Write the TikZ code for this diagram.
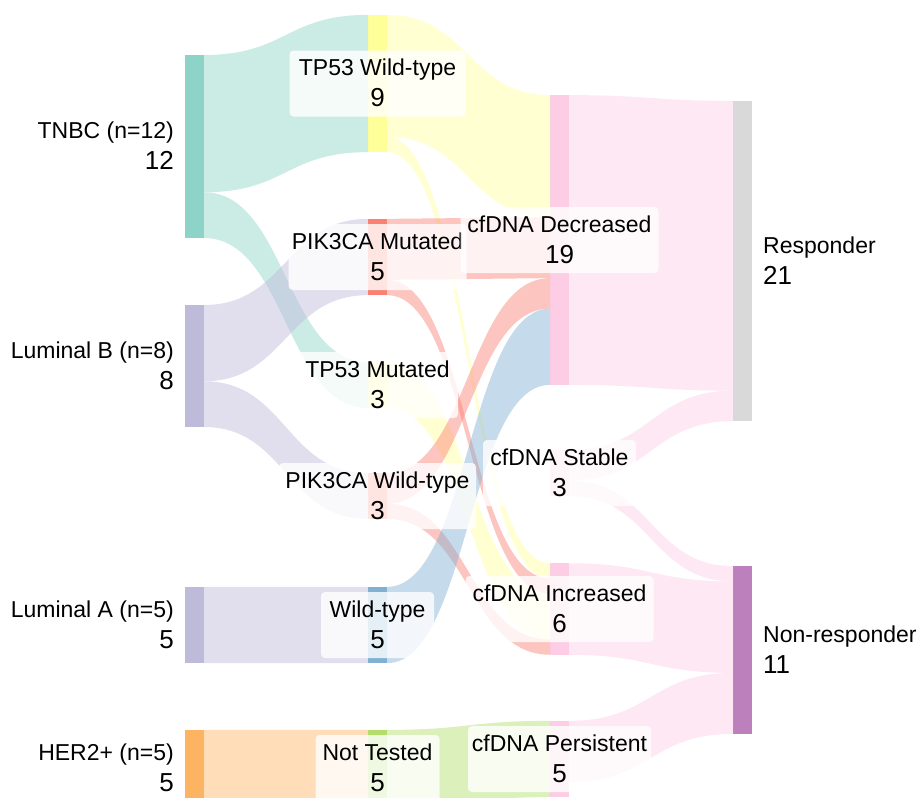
\documentclass[tikz,border=0pt]{standalone}
\usepackage{fontspec}
\setmainfont{Liberation Sans}
\usetikzlibrary{calc}
\definecolor{cTeal}{HTML}{8DD3C7}
\definecolor{cLav}{HTML}{BEBADA}
\definecolor{cOrange}{HTML}{FDB462}
\definecolor{cYellow}{HTML}{FFFF99}
\definecolor{cRed}{HTML}{FB8072}
\definecolor{cBlue}{HTML}{80B1D3}
\definecolor{cGreen}{HTML}{B3DE69}
\definecolor{cPink}{HTML}{FCCDE5}
\definecolor{cGrey}{HTML}{D9D9D9}
\definecolor{cPurple}{HTML}{BC80BD}
\def\U{15.25pt}
% link: #1 source node, #2 source offset (units), #3 target node, #4 target offset, #5 width, #6 colour
\newcommand\lnk[6]{%
  \fill[#6, fill opacity=0.45] let \p1=(#1.north east), \p2=(#3.north west), \p3=($(\p1)!0.5!(\p2)$) in
    (\x1,\y1-#2*\U) .. controls (\x3,\y1-#2*\U) and (\x3,\y2-#4*\U) .. (\x2,\y2-#4*\U)
    -- (\x2,\y2-#4*\U-#5*\U) .. controls (\x3,\y2-#4*\U-#5*\U) and (\x3,\y1-#2*\U-#5*\U) .. (\x1,\y1-#2*\U-#5*\U) -- cycle;}
\newcommand\midlbl[4]{% #1 bar node, #2 box width, #3 name, #4 number
  \node[lblbox, minimum width=#2] (#1-box) at (#1.center) {};
  \node[nametxt, anchor=base] (#1-name) at ($(#1.center)+(0,-8)$) {#3};
  \node[numtxt, anchor=base] (#1-num) at ($(#1.center)+(0,23)$) {#4};}
\newcommand\leftlbl[3]{%
  \node[nametxt, anchor=base east] (#1-name) at ($(#1.center)+(-20.5,-8)$) {#2};
  \node[numtxt, anchor=base east] (#1-num) at ($(#1.center)+(-20.5,23)$) {#3};}
\newcommand\rightlbl[3]{%
  \node[nametxt, anchor=base west] (#1-name) at ($(#1.center)+(20.5,-8)$) {#2};
  \node[numtxt, anchor=base west] (#1-num) at ($(#1.center)+(20.5,23)$) {#3};}
\tikzset{
  bar/.style={rectangle, draw=none, inner sep=0pt, outer sep=0pt, minimum width=19pt},
  lblbox/.style={rectangle, rounded corners=4pt, draw=none, fill=white, fill opacity=0.8, minimum height=66pt, inner sep=0pt},
  nametxt/.style={inner sep=0pt, text=black, font=\fontsize{23}{28}\selectfont},
  numtxt/.style={inner sep=0pt, text=black, font=\fontsize{26}{30}\selectfont},
}
\begin{document}
\begin{tikzpicture}[x=1pt, y=-1pt]
\clip (0,0) rectangle (919,798);
\fill[white] (0,0) rectangle (919,798);
% column 0
\node[bar, fill=cTeal,   minimum height=12*\U] (tnbc) at (194.5,146.5) {};
\node[bar, fill=cLav,    minimum height=8*\U]  (lumb) at (194.5,366) {};
\node[bar, fill=cLav,    minimum height=5*\U]  (luma) at (194.5,625) {};
\node[bar, fill=cOrange, minimum height=5*\U]  (her2) at (194.5,768) {};
% column 1
\node[bar, fill=cYellow, minimum height=9*\U] (tp53wt) at (377.5,83.5) {};
\node[bar, fill=cRed,    minimum height=5*\U] (pikm)   at (377.5,257) {};
\node[bar, fill=cYellow, minimum height=3*\U] (tp53m)  at (377.5,385) {};
\node[bar, fill=cRed,    minimum height=3*\U] (pikwt)  at (377.5,496) {};
\node[bar, fill=cBlue,   minimum height=5*\U] (wt)     at (377.5,625) {};
\node[bar, fill=cGreen,  minimum height=5*\U] (nt)     at (377.5,768) {};
% column 2
\node[bar, fill=cPink, minimum height=19*\U] (dec)  at (559.5,240) {};
\node[bar, fill=cPink, minimum height=3*\U]  (stab) at (559.5,473) {};
\node[bar, fill=cPink, minimum height=6*\U]  (inc)  at (559.5,609) {};
\node[bar, fill=cPink, minimum height=5*\U]  (pers) at (559.5,759) {};
% column 3
\node[bar, fill=cGrey,   minimum height=21*\U] (resp) at (742.5,261) {};
\node[bar, fill=cPurple, minimum height=11*\U] (nonr) at (742.5,650) {};
% links column 0 -> 1
\lnk{tnbc}{0}{tp53wt}{0}{9}{cTeal}
\lnk{tnbc}{9}{tp53m}{0}{3}{cTeal}
\lnk{lumb}{0}{pikm}{0}{5}{cLav}
\lnk{lumb}{5}{pikwt}{0}{3}{cLav}
\lnk{luma}{0}{wt}{0}{5}{cLav}
\lnk{her2}{0}{nt}{0}{5}{cOrange}
% links column 1 -> 2
\lnk{tp53wt}{0}{dec}{0}{8}{cYellow}
\lnk{tp53wt}{8}{inc}{0}{1}{cYellow}
\lnk{pikm}{0}{dec}{8}{4}{cRed}
\lnk{pikm}{4}{inc}{1}{1}{cRed}
\lnk{tp53m}{0}{inc}{2}{3}{cYellow}
\lnk{pikwt}{0}{dec}{12}{2}{cRed}
\lnk{pikwt}{2}{inc}{5}{1}{cRed}
\lnk{wt}{0}{dec}{14}{5}{cBlue}
\lnk{nt}{0}{pers}{0}{5}{cGreen}
% links column 2 -> 3
\lnk{dec}{0}{resp}{0}{19}{cPink}
\lnk{stab}{0}{resp}{19}{2}{cPink}
\lnk{stab}{2}{nonr}{0}{1}{cPink}
\lnk{inc}{0}{nonr}{1}{6}{cPink}
\lnk{pers}{0}{nonr}{7}{4}{cPink}
% labels
\leftlbl{tnbc}{TNBC (n=12)}{12}
\leftlbl{lumb}{Luminal B (n=8)}{8}
\leftlbl{luma}{Luminal A (n=5)}{5}
\leftlbl{her2}{HER2+ (n=5)}{5}
\midlbl{tp53wt}{176pt}{TP53 Wild-type}{9}
\midlbl{pikm}{178pt}{PIK3CA Mutated}{5}
\midlbl{tp53m}{161pt}{TP53 Mutated}{3}
\midlbl{pikwt}{197pt}{PIK3CA Wild-type}{3}
\midlbl{wt}{113pt}{Wild-type}{5}
\midlbl{nt}{124pt}{Not Tested}{5}
\midlbl{dec}{198pt}{cfDNA Decreased}{19}
\midlbl{stab}{153pt}{cfDNA Stable}{3}
\midlbl{inc}{188pt}{cfDNA Increased}{6}
\midlbl{pers}{183pt}{cfDNA Persistent}{5}
\rightlbl{resp}{Responder}{21}
\rightlbl{nonr}{Non-responder}{11}
\end{tikzpicture}
\end{document}
